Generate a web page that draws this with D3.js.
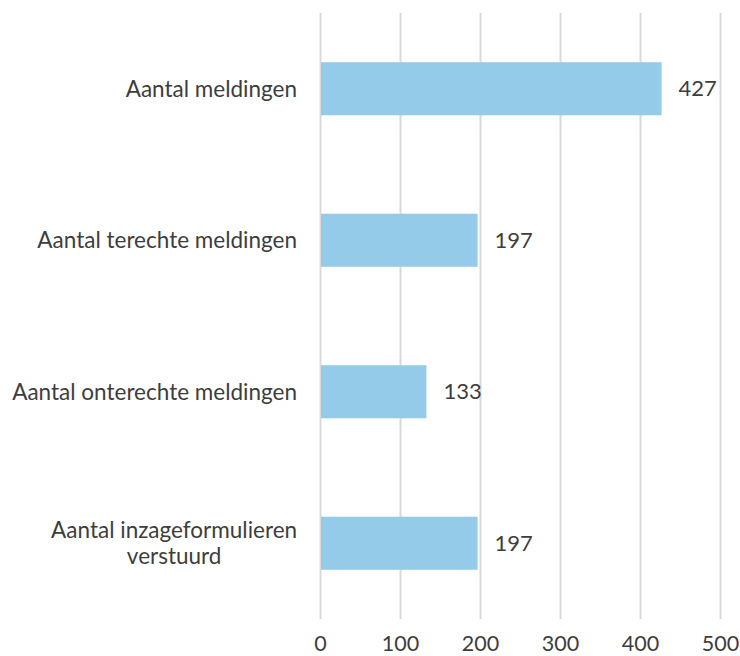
<!DOCTYPE html>
<html>
<head>
<meta charset="utf-8">
<script src="https://cdn.jsdelivr.net/npm/d3@7"></script>
<style>
  body { margin: 0; background: #fff; }
  text { font-family: Lato, "Open Sans", sans-serif; fill: #3d3d3d; }
</style>
</head>
<body>
<svg id="barchart"></svg>
<script>
// chart data
var categories = ["Aantal meldingen", "Aantal terechte meldingen", "Aantal onterechte meldingen", "Aantal inzageformulieren verstuurd"];
var labelLines = [["Aantal meldingen"], ["Aantal terechte meldingen"], ["Aantal onterechte meldingen"], ["Aantal inzageformulieren", "verstuurd"]];
var values = [427, 197, 133, 197];
var tickValues = [0, 100, 200, 300, 400, 500];

var dimensions = {
    width: 740,
    height: 656,
    margin: {
        top: 13,
        bottom: 37,
        right: 20,
        left: 320
    }
};

var svg = d3.select("#barchart")
    .attr("width", dimensions.width)
    .attr("height", dimensions.height);

var xScale = d3.scaleLinear()
    .domain([0, 500])
    .range([dimensions.margin.left, dimensions.width - dimensions.margin.right]);

var yScale = d3.scaleBand()
    .domain(categories)
    .range([dimensions.margin.top, dimensions.height - dimensions.margin.bottom])
    .paddingInner(0.65)
    .paddingOuter(0.325);

// vertical gridlines + tick labels
var xAxis = d3.axisBottom(xScale)
    .tickValues(tickValues)
    .tickSize(-(dimensions.height - dimensions.margin.bottom - dimensions.margin.top))
    .tickPadding(17);

var gx = svg.append("g")
    .attr("transform", `translate(0, ${dimensions.height - dimensions.margin.bottom})`)
    .call(xAxis);
gx.select(".domain").remove();
gx.selectAll(".tick line")
    .attr("stroke", "#d9d9d9")
    .attr("stroke-width", 2);
gx.selectAll(".tick text")
    .attr("font-size", 21.5)
    .attr("font-family", null)
    .attr("fill", "#3d3d3d");

// bars
svg.selectAll(".bar")
    .data(values)
    .enter()
    .append("rect")
    .attr("class", "bar")
    .attr("x", xScale(0) + 1)
    .attr("y", (d, i) => yScale(categories[i]))
    .attr("width", d => xScale(d) - xScale(0) - 1)
    .attr("height", yScale.bandwidth())
    .attr("fill", "#93cbe8");

// value labels
svg.selectAll(".value")
    .data(values)
    .enter()
    .append("text")
    .attr("class", "value")
    .attr("x", d => xScale(d) + 17)
    .attr("y", (d, i) => yScale(categories[i]) + yScale.bandwidth() / 2)
    .attr("dy", "0.35em")
    .attr("font-size", 22)
    .text(d => d);

// category labels
var lineHeight = 26;
var catLabels = svg.selectAll(".cat")
    .data(labelLines)
    .enter()
    .append("text")
    .attr("class", "cat")
    .attr("font-size", 22.5)
    .attr("y", (d, i) => yScale(categories[i]) + yScale.bandwidth() / 2 - (d.length - 1) * lineHeight / 2)
    .attr("dy", "0.35em");

catLabels.each(function(lines) {
    var t = d3.select(this);
    var right = dimensions.margin.left - 23;
    var tspans = t.selectAll("tspan")
        .data(lines)
        .enter()
        .append("tspan")
        .attr("dy", (d, j) => j === 0 ? null : lineHeight)
        .text(d => d);
    // right-align the block, center lines inside it
    var widths = [];
    tspans.each(function() { widths.push(this.getComputedTextLength()); });
    var maxW = d3.max(widths);
    tspans.attr("x", right - maxW / 2).attr("text-anchor", "middle");
});
</script>
</body>
</html>
